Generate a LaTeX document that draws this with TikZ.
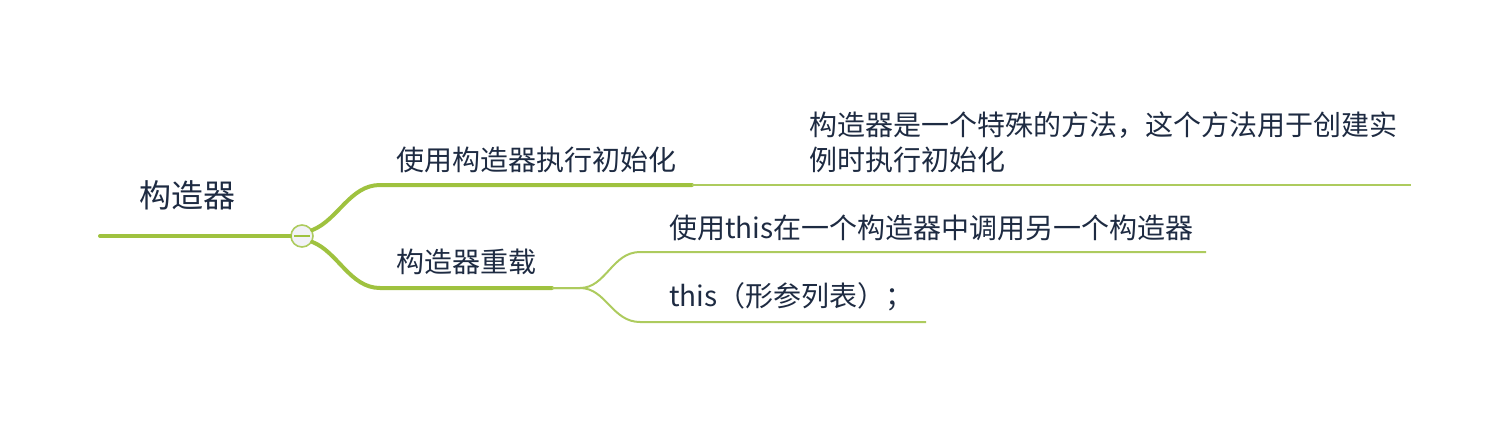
\documentclass[tikz,border=0pt]{standalone}
\usepackage{fontspec}
\setmainfont{Noto Sans CJK SC}
\usepackage{xcolor}
\usetikzlibrary{arrows,shapes,calc,positioning}
\definecolor{thickgreen}{HTML}{9FC23F}
\definecolor{thingreen}{HTML}{ADCB5E}
\definecolor{inkblue}{HTML}{1E2B42}
\definecolor{knobfill}{HTML}{F2F2F7}

\begin{document}
\begin{tikzpicture}[x=0.75pt,y=-0.75pt]
			\tikzstyle{every node}=[font=\fontsize{21}{26}\selectfont, text=inkblue, inner sep=0pt]
			\tikzstyle{thickline}=[line width=3pt, thickgreen, line cap=round]
			\tikzstyle{thinline}=[line width=1.5pt, thingreen]
			\useasboundingbox (0,0) rectangle (1512,424);
			% root
			\coordinate (rootstart) at (100,236);
			\node [font=\fontsize{24}{28}\selectfont, anchor=west] (root) at (139,195) {构造器};
			\node [circle, draw=thingreen, line width=1.2pt, fill=knobfill, minimum size=16.5pt] (knob) at (302,236) {};
			\draw [thickline] (rootstart) -- (knob.west);
			\draw [line width=1.2pt, thickgreen] ($(knob.center)+(-8,0)$) -- ($(knob.center)+(8,0)$);
			% first branch
			\coordinate (initstart) at (380,185);
			\coordinate (initend) at (692,185);
			\node [anchor=west] (init) at (396,160) {使用构造器执行初始化};
			\draw [thickline] (knob.30) .. controls (338,220) and (350,185) .. (initstart) -- (initend);
			\coordinate (noteend) at (1411,185);
			\node [anchor=west, align=left, font=\fontsize{21}{26.25}\selectfont] (note) at (809,142.5) {构造器是一个特殊的方法，这个方法用于创建实\\例时执行初始化};
			\draw [thinline] (initend) -- (noteend);
			% second branch
			\coordinate (overstart) at (380,288);
			\coordinate (overend) at (552,288);
			\node [anchor=west] (over) at (396,262) {构造器重载};
			\draw [thickline] (knob.-30) .. controls (338,252) and (350,288) .. (overstart) -- (overend);
			\coordinate (callstart) at (640,252);
			\coordinate (callend) at (1206,252);
			\node [anchor=west] (call) at (669,228) {使用this在一个构造器中调用另一个构造器};
			\coordinate (formstart) at (640,322);
			\coordinate (formend) at (926,322);
			\node [anchor=west] (form) at (669,297) {this（形参列表）；};
			\draw [thinline] (overend) -- (580,288) .. controls (606,288) and (612,252) .. (callstart) -- (callend);
			\draw [thinline] (overend) -- (580,288) .. controls (606,288) and (612,322) .. (formstart) -- (formend);
		\end{tikzpicture}
\end{document}
